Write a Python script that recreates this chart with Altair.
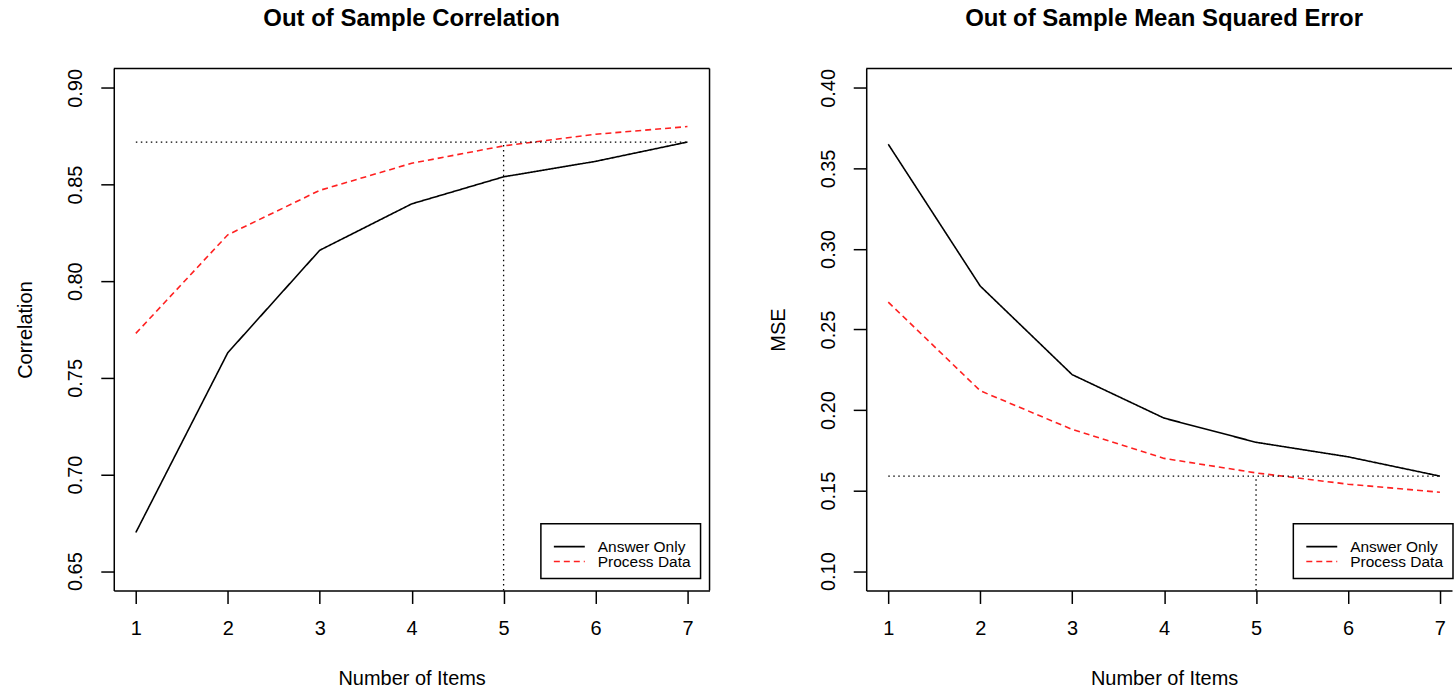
import altair as alt
import pandas as pd

FONT = "Liberation Sans"

items = [1, 2, 3, 4, 5, 6, 7]
series = ["Answer Only", "Process Data"]
corr_answer = [0.670, 0.763, 0.816, 0.840, 0.854, 0.862, 0.872]
corr_process = [0.773, 0.824, 0.847, 0.861, 0.870, 0.876, 0.880]
mse_answer = [0.365, 0.277, 0.222, 0.195, 0.180, 0.171, 0.159]
mse_process = [0.267, 0.212, 0.188, 0.170, 0.161, 0.154, 0.149]
corr_ticks = [0.65, 0.70, 0.75, 0.80, 0.85, 0.90]
mse_ticks = [0.10, 0.15, 0.20, 0.25, 0.30, 0.35, 0.40]
ref_item = 5
corr_ref = 0.872
mse_ref = 0.159

W_FULL = 597
H = 523
LINE_COLORS = ["black", "#ff2020"]
LINE_DASH = [[1, 0], [6, 4]]


def long_df(a, b):
    rows = []
    for s, vals in zip(series, [a, b]):
        for i, v in zip(items, vals):
            rows.append({"item": i, "value": v, "series": s})
    return pd.DataFrame(rows)


def panel(df, ref_val, y_domain, y_ticks, y_title, title, width, x_max, right_border, title_dx):
    xs = alt.Scale(domain=[0.76, x_max], nice=False, zero=False)
    ys = alt.Scale(domain=y_domain, nice=False, zero=False)
    x_axis = alt.Axis(values=items, format="d", title="Number of Items",
                      titleX=W_FULL / 2, titleY=88, titleBaseline="middle", titleAlign="center",
                      labelPadding=25, labelBaseline="middle")
    y_axis = alt.Axis(values=y_ticks, format=".2f", title=y_title,
                      titleX=-88, titleY=H / 2, titleAngle=270, titleBaseline="middle",
                      titleAlign="center", labelAngle=270, labelAlign="center",
                      labelBaseline="middle", labelPadding=25)

    lines = alt.Chart(df).mark_line(strokeWidth=1.6).encode(
        x=alt.X("item:Q", scale=xs, axis=x_axis),
        y=alt.Y("value:Q", scale=ys, axis=y_axis),
        color=alt.Color("series:N", scale=alt.Scale(domain=series, range=LINE_COLORS), legend=None),
        strokeDash=alt.StrokeDash("series:N", scale=alt.Scale(domain=series, range=LINE_DASH), legend=None),
    )

    hdf = pd.DataFrame({"x1": [items[0]], "x2": [items[-1]], "y": [ref_val]})
    hrule = alt.Chart(hdf).mark_rule(color="black", strokeWidth=1.3, strokeDash=[1.5, 3.5]).encode(
        x=alt.X("x1:Q", scale=xs, axis=x_axis), x2="x2:Q", y=alt.Y("y:Q", scale=ys, axis=y_axis))
    vdf = pd.DataFrame({"x": [ref_item], "y1": [y_domain[0]], "y2": [ref_val]})
    vrule = alt.Chart(vdf).mark_rule(color="black", strokeWidth=1.3, strokeDash=[1.5, 3.5]).encode(
        x=alt.X("x:Q", scale=xs, axis=x_axis), y=alt.Y("y1:Q", scale=ys, axis=y_axis), y2="y2:Q")

    one = pd.DataFrame({"a": [0]})
    layers = [lines, hrule, vrule]
    layers.append(alt.Chart(one).mark_rule(color="black", strokeWidth=1.5).encode(
        x=alt.value(0), x2=alt.value(width), y=alt.value(0)))
    if right_border:
        layers.append(alt.Chart(one).mark_rule(color="black", strokeWidth=1.5).encode(
            x=alt.value(width), y=alt.value(0), y2=alt.value(H)))

    # legend box
    layers.append(alt.Chart(one).mark_rect(fill="white", stroke="black", strokeWidth=1.5).encode(
        x=alt.value(428), x2=alt.value(588), y=alt.value(456), y2=alt.value(511)))
    for k, s in enumerate(series):
        yy = 479 + 15 * k
        layers.append(alt.Chart(one).mark_rule(color=LINE_COLORS[k], strokeWidth=1.6,
                                               strokeDash=LINE_DASH[k]).encode(
            x=alt.value(441), x2=alt.value(472), y=alt.value(yy)))
        layers.append(alt.Chart(one).mark_text(text=s, align="left", baseline="middle",
                                               font=FONT, fontSize=15.5, color="black").encode(
            x=alt.value(485), y=alt.value(yy)))

    return alt.layer(*layers).properties(
        width=width, height=H,
        title=alt.TitleParams(text=title, font=FONT, fontSize=24, fontWeight="bold",
                              anchor="middle", baseline="alphabetic", offset=18, dx=title_dx,
                              color="black"),
    )


left = panel(long_df(corr_answer, corr_process), corr_ref, [0.64, 0.91], corr_ticks,
             "Correlation", "Out of Sample Correlation", W_FULL, 7.24, True, 0)
right_w = 587
right = panel(long_df(mse_answer, mse_process), mse_ref, [0.088, 0.412], mse_ticks,
              "MSE", "Out of Sample Mean Squared Error", right_w,
              0.76 + 6.48 * right_w / W_FULL, False, (W_FULL - right_w) / 2)

chart = alt.hconcat(left, right, spacing=157, bounds="flush").properties(
    padding={"left": 15, "top": 5, "right": 0, "bottom": 0},
    background="white",
).configure_view(stroke="transparent").configure_axis(
    grid=False, domainColor="black", domainWidth=1.5, tickColor="black", tickWidth=1.5,
    tickSize=13, labelFont=FONT, labelFontSize=20, labelColor="black",
    titleFont=FONT, titleFontSize=20, titleColor="black", titleFontWeight="normal",
)

chart.save("out.html", embed_options={"renderer": "svg", "actions": False})
